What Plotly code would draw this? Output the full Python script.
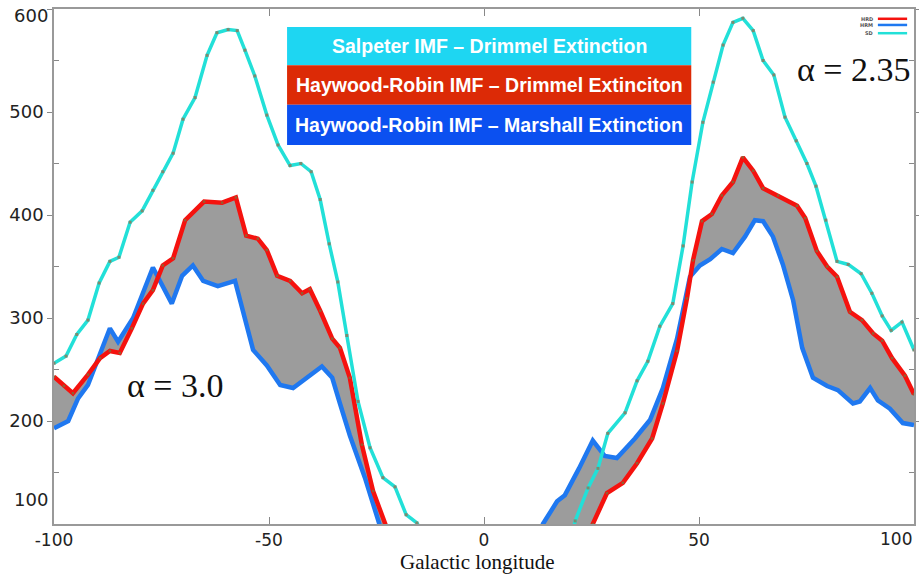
import plotly.graph_objects as go

# ---------------- data ----------------
# Salpeter IMF - Drimmel extinction (SD, cyan)
sd_left_lon = [-100, -97.2, -94.7, -92.1, -89.5, -87.0, -84.9, -82.3, -79.5, -77.0, -74.7, -72.3,
               -70.0, -67.2, -64.4, -62.1, -59.5, -57.4, -55.6, -53.3, -50.5, -47.9, -45.1, -42.6,
               -40.2, -38.1, -36.0, -34.0, -31.9, -29.3, -26.5, -23.5, -20.7, -18.1, -15.6, -13.0]
sd_left_val = [256, 263, 284, 298, 334, 355, 359, 393, 404, 424, 442, 460,
               493, 514, 555, 577, 580, 579, 560, 535, 497, 468, 448, 450,
               442, 415, 372, 335, 283, 219, 174, 145, 136, 109, 101, 82]
sd_right_lon = [20.0, 21.2, 24.2, 26.5, 28.8, 32.8, 35.6, 38.1, 40.9, 43.9, 46.3, 48.4, 50.9, 53.3,
                55.6, 57.9, 60.2, 62.6, 64.9, 67.4, 70.0, 72.6, 75.1, 77.2, 79.5, 82.1, 84.7,
                87.7, 90.2, 92.6, 94.7, 97.2, 100]
sd_right_val = [82, 103, 135, 154, 188, 208, 239, 258, 292, 314, 370, 432, 490, 529,
                565, 587, 591, 579, 550, 536, 495, 472, 450, 428, 395, 355, 352,
                343, 324, 302, 288, 296, 269]

# Haywood-Robin IMF - Drimmel extinction (HRD, red)
hrd_left_lon = [-100, -97.7, -95.6, -92.1, -89.3, -87.0, -84.7, -81.9, -79.3, -77.0, -74.7, -72.3,
                -69.5, -65.1, -60.9, -57.7, -55.3, -52.6, -50.5, -48.1, -45.1, -42.3, -40.5, -38.1,
                -35.3, -33.5, -31.2, -28.4, -25.8, -22.6, -21.4]
hrd_left_val = [243, 234, 227, 245, 261, 268, 266, 290, 314, 327, 351, 358,
                395, 413, 412, 417, 380, 377, 366, 341, 336, 324, 328, 307,
                280, 271, 242, 177, 132, 96, 82]
hrd_right_lon = [24.2, 25.3, 28.6, 32.3, 35.6, 39.1, 41.6, 44.9, 47.2, 48.6, 50.7, 53.0, 55.3,
                 57.9, 60.2, 62.6, 64.9, 68.4, 72.8, 74.7, 77.4, 79.8, 82.1, 85.1, 87.9, 90.5,
                 92.6, 94.9, 97.9, 100]
hrd_right_val = [82, 100, 130, 140, 159, 183, 217, 268, 319, 356, 394, 401, 419,
                 432, 456, 443, 426, 419, 409, 397, 365, 350, 340, 306, 298, 285,
                 278, 261, 244, 226]

# Haywood-Robin IMF - Marshall extinction (HRM, blue)
hrm_left_lon = [-100, -96.7, -94.4, -92.1, -87.0, -85.1, -81.6, -77.0, -72.6, -70.2, -67.7, -65.3,
                -61.9, -57.9, -53.7, -50.5, -47.4, -44.4, -37.7, -35.3, -33.5, -31.2, -27.7, -24.2,
                -23.0]
hrm_left_val = [193, 200, 222, 235, 290, 277, 300, 349, 314, 341, 351, 336,
                331, 336, 269, 254, 235, 232, 253, 242, 217, 186, 145, 96,
                82]
hrm_right_lon = [12.6, 13.7, 17.0, 18.8, 22.1, 25.3, 28.1, 30.9, 35.1, 38.6, 41.6, 44.9, 47.9,
                 50.2, 52.6, 55.3, 57.9, 60.7, 63.0, 64.9, 67.2, 69.5, 71.9, 74.0, 76.5, 79.8,
                 82.3, 85.8, 87.4, 89.8, 91.6, 94.4, 97.4, 100]
hrm_right_val = [82, 100, 122, 128, 154, 181, 166, 164, 183, 201, 232, 280, 340,
                 351, 357, 367, 363, 379, 395, 394, 379, 352, 317, 271, 242, 234,
                 230, 217, 219, 232, 220, 212, 198, 196]

x_ticks = [-100, -50, 0, 50]
y_ticks = [200, 300, 400, 500]
legend_rows = ["Salpeter IMF \u2013 Drimmel Extinction",
               "Haywood-Robin IMF \u2013 Drimmel Extinciton",
               "Haywood-Robin IMF \u2013 Marshall Extinction"]
small_legend = ["HRD", "HRM", "SD"]

# ---------------- styles ----------------
C_RED = "#f5120e"
C_BLUE = "#1f78f0"
C_CYAN = "#22e0d8"
C_FILL = "#9c9c9c"
ROW_COLORS = ["#1ed6f2", "#dc2a06", "#0b50f0"]
TICK_FONT = dict(family="DejaVu Sans", size=18, color="#222")
XTICK_FONT = dict(family="DejaVu Sans", size=17, color="#222")

fig = go.Figure()

# gray bands between HRD and HRM
for rx, ry, bx, by in [(hrd_left_lon, hrd_left_val, hrm_left_lon, hrm_left_val),
                       (hrd_right_lon, hrd_right_val, hrm_right_lon, hrm_right_val)]:
    fig.add_trace(go.Scatter(x=list(rx) + list(bx)[::-1], y=list(ry) + list(by)[::-1],
                             mode="lines", fill="toself", fillcolor=C_FILL,
                             line=dict(width=0, color=C_FILL), hoverinfo="skip",
                             showlegend=False))

for xs, ys in [(hrm_left_lon, hrm_left_val), (hrm_right_lon, hrm_right_val)]:
    fig.add_trace(go.Scatter(x=xs, y=ys, mode="lines", line=dict(color=C_BLUE, width=4.5),
                             showlegend=False))
for xs, ys in [(hrd_left_lon, hrd_left_val), (hrd_right_lon, hrd_right_val)]:
    fig.add_trace(go.Scatter(x=xs, y=ys, mode="lines+markers", line=dict(color=C_RED, width=4.5),
                             marker=dict(size=2.5, color="#9a5a30", symbol="square"),
                             showlegend=False))
for xs, ys in [(sd_left_lon, sd_left_val), (sd_right_lon, sd_right_val)]:
    fig.add_trace(go.Scatter(x=xs, y=ys, mode="lines+markers", line=dict(color=C_CYAN, width=3.5),
                             marker=dict(size=3, color="#7c8a70", symbol="square"),
                             showlegend=False, cliponaxis=True))

shapes = []
annotations = []

# coloured legend box
row_y = [(0.965, 0.891), (0.891, 0.814), (0.814, 0.736)]
for (y1, y0), col, txt in zip(row_y, ROW_COLORS, legend_rows):
    shapes.append(dict(type="rect", xref="paper", yref="paper", x0=0.271, x1=0.741,
                       y0=y0, y1=y1, fillcolor=col, line=dict(width=0), layer="above"))
    annotations.append(dict(xref="paper", yref="paper", x=0.506, y=(y0 + y1) / 2,
                            text="<b>%s</b>" % txt, showarrow=False, xanchor="center",
                            yanchor="middle",
                            font=dict(family="Liberation Sans", size=19.5, color="white")))

# tiny legend at top right
small_cols = [C_RED, C_BLUE, C_CYAN]
small_y = [0.981, 0.969, 0.953]
for lab, col, yy in zip(small_legend, small_cols, small_y):
    shapes.append(dict(type="line", xref="paper", yref="paper", x0=0.958, x1=0.992,
                       y0=yy, y1=yy, line=dict(color=col, width=2.5)))
    annotations.append(dict(xref="paper", yref="paper", x=0.955, y=yy, text="<b>%s</b>" % lab,
                            showarrow=False, xanchor="right", yanchor="middle",
                            font=dict(family="DejaVu Sans", size=5, color="#555")))

# alpha labels
annotations.append(dict(xref="paper", yref="paper", x=0.930, y=0.882, text="\u03b1 = 2.35",
                        showarrow=False, xanchor="center", yanchor="middle",
                        font=dict(family="Liberation Serif", size=34, color="#111")))
annotations.append(dict(xref="paper", yref="paper", x=0.141, y=0.268, text="\u03b1 = 3.0",
                        showarrow=False, xanchor="center", yanchor="middle",
                        font=dict(family="Liberation Serif", size=34, color="#111")))

# axis title
annotations.append(dict(xref="paper", yref="paper", x=0.493, y=-0.0738, text="Galactic longitude",
                        showarrow=False, xanchor="center", yanchor="middle",
                        font=dict(family="Liberation Serif", size=21, color="#111")))

# end tick labels placed as in the reference
annotations.append(dict(xref="paper", yref="paper", x=-0.005, y=0.047, text="100",
                        showarrow=False, xanchor="right", yanchor="middle", font=TICK_FONT))
annotations.append(dict(xref="paper", yref="paper", x=-0.005, y=0.988, text="600",
                        showarrow=False, xanchor="right", yanchor="middle", font=TICK_FONT))
annotations.append(dict(xref="paper", yref="paper", x=0.979, y=-0.029, text="100",
                        showarrow=False, xanchor="center", yanchor="middle", font=XTICK_FONT))

fig.update_layout(
    width=919, height=574,
    margin=dict(l=54, r=5, t=9, b=50),
    paper_bgcolor="white", plot_bgcolor="white",
    shapes=shapes, annotations=annotations,
    showlegend=False,
)
fig.update_xaxes(range=[-100, 100], tickvals=x_ticks, ticktext=[str(v) for v in x_ticks],
                 ticks="inside", ticklen=7, tickcolor="#888", showgrid=False, zeroline=False,
                 showline=True, linecolor="#999", linewidth=1.5, mirror="ticks",
                 ticklabelstandoff=0,
                 tickfont=XTICK_FONT, automargin=False)
fig.update_yaxes(range=[100, 600], tickvals=y_ticks + [600], ticktext=[str(v) for v in y_ticks] + [""],
                 ticks="outside", ticklen=5, tickcolor="#888", showgrid=False, zeroline=False,
                 showline=True, linecolor="#999", linewidth=1.5, mirror="ticks",
                 minor=dict(tickvals=[150, 250, 350, 450, 550], ticks="inside", ticklen=5,
                            tickcolor="#888"),
                 ticklabelstandoff=0,
                 tickfont=TICK_FONT, automargin=False)

fig.write_html("out.html")
